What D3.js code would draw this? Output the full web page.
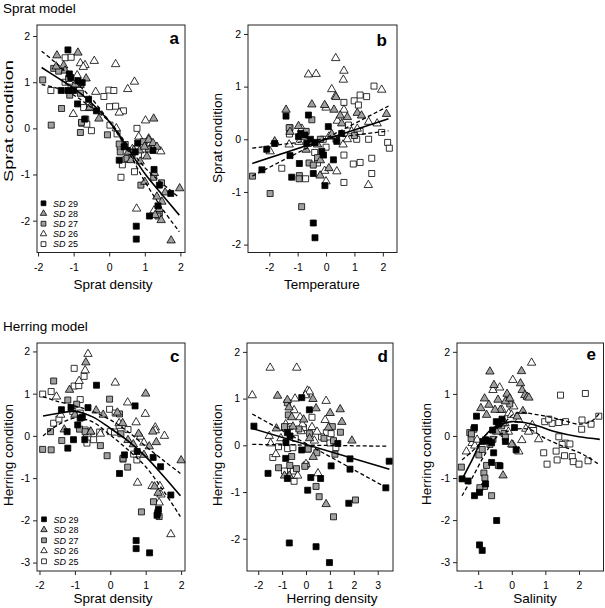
<!DOCTYPE html>
<html><head><meta charset="utf-8">
<script src="https://cdn.jsdelivr.net/npm/d3@7"></script>
<style>body{margin:0;background:#fff}svg{display:block}text{font-family:"Liberation Sans",Arial,sans-serif}</style>
</head><body><svg id="c" width="605" height="608"></svg>
<script>
// ---------- data ----------
const seriesNames = ["SD 29","SD 28","SD 27","SD 26","SD 25"];
// Panel a: Sprat density vs Sprat condition
const aSD29=[[-1.16,1.70],[-1.12,1.18],[-1.08,1.10],[-1.35,0.82],[-1.16,0.82],[-1.0,0.82],[-0.88,1.03],[-0.76,0.99],[-0.89,0.53],[-0.58,0.63],[-0.69,0.20],[-0.36,0.38],[0.42,-0.40],[0.28,-0.69],[0.80,-0.32],[0.73,-0.51],[1.23,-0.48],[1.26,-0.89],[1.37,-1.68],[1.41,-1.23],[1.73,-1.41],[1.13,-1.90],[0.76,-2.12],[0.76,-2.40]];
const aSD28=[[-1.47,1.58],[-1.49,1.34],[-1.28,1.36],[-1.24,1.25],[-0.88,1.64],[-0.65,1.08],[-0.82,0.94],[-0.96,0.95],[-0.29,0.21],[-0.55,0.45],[0.69,-0.47],[0.85,-0.48],[0.99,-0.40],[1.25,0.21],[1.11,-0.25],[1.23,-0.32],[1.34,-0.40],[1.27,-0.97],[1.34,-1.48],[1.41,-1.75],[1.46,-1.99],[1.29,-1.88],[0.87,-0.72],[1.98,-1.30],[1.74,-2.43],[1.06,-0.61],[0.61,-0.69],[0.54,-0.51],[1.0,-1.16],[1.57,-1.39],[1.48,-1.59]];
const aSD27=[[-1.87,1.05],[-1.34,0.43],[-1.63,0.07],[-1.56,1.30],[-1.42,1.24],[-1.14,1.08],[-1.11,0.72],[-0.81,0.76],[-0.81,-0.09],[-0.78,0.13],[-0.55,0.45],[-0.05,-0.14],[0.28,-0.34],[0.31,-0.51],[0.50,-0.65],[0.64,-0.59],[0.89,-1.23],[0.96,-0.29],[1.25,-1.06],[1.47,-1.18],[1.41,-1.84],[1.37,-1.90],[0.45,-0.35],[1.1,-0.45]];
const aSD26=[[-0.81,1.41],[-0.68,1.37],[-0.73,1.33],[-0.42,1.46],[0.18,1.39],[0.71,1.01],[0.52,0.85],[-0.38,0.79],[0.28,0.34],[-1.01,0.31],[1.02,0.17],[0.83,-0.18],[1.11,-0.22],[1.15,-0.33],[0.77,-1.74],[1.26,-1.78],[-1.12,1.01],[-0.9,1.15],[0.2,0.0],[0.65,-0.45],[1.45,-0.5]];
const aSD25=[[-1.24,1.53],[-1.07,1.54],[-1.64,0.82],[-1.24,1.0],[-1.07,0.93],[-0.72,0.45],[-0.66,0.20],[-0.77,0.11],[-0.63,0.09],[-0.50,-0.05],[-0.15,0.69],[-0.01,0.83],[0.13,0.82],[0.01,0.47],[0.18,0.48],[0.40,0.38],[0.02,0.07],[0.22,-0.12],[0.31,-0.40],[0.37,-0.79],[0.33,-1.06],[0.71,-0.94],[0.78,0.0],[0.47,-0.67],[0.99,-0.58]];
const aFit=[[-1.9,1.32],[-1.5,1.12],[-1,0.87],[-0.5,0.55],[0,0.15],[0.5,-0.4],[1,-0.98],[1.5,-1.45],[1.97,-1.88]];
const aBand1=[[-1.9,1.67],[-1.5,1.42],[-1,1.05],[-0.5,0.65],[0,0.15],[0.5,-0.45],[1,-1.15],[1.5,-1.75],[1.97,-2.24]];
const aBand2=[[-1.9,0.95],[-1.5,0.88],[-1,0.72],[-0.5,0.45],[0,0.15],[0.5,-0.35],[1,-0.85],[1.5,-1.2],[1.97,-1.5]];
// Panel b: Temperature vs Sprat condition
const bSD29=[[-1.41,0.44],[-0.62,0.46],[0.08,0.24],[-2.09,-0.19],[-1.81,-0.08],[-2.26,-0.58],[-1.27,-0.31],[-1.21,-0.72],[-0.97,0.05],[-0.89,0.11],[-0.94,-0.46],[-0.74,0.08],[-0.68,-0.08],[-0.39,-0.06],[-0.15,-0.23],[-0.09,-0.30],[0.26,-0.39],[0.38,-0.04],[0.55,0.11],[-0.45,-0.65],[-0.04,-0.88],[-0.45,-1.59],[-0.39,-1.87],[-0.55,0.0]];
const bSD28=[[-1.41,0.56],[-1.81,-0.04],[-0.5,0.66],[-0.05,0.65],[0.35,0.8],[0.28,0.56],[-0.97,0.25],[-1.27,0.14],[-0.2,-0.4],[-0.21,-0.69],[0.1,-0.55],[0.55,0.3],[1.1,0.5],[1.25,0.45],[2.13,0.48],[0.75,0.42],[-0.7,-0.2],[0.2,0.1],[-0.3,-0.1],[0.5,0.45]];
const bSD27=[[-2.59,-0.70],[-1.97,-1.03],[-0.86,-1.28],[-0.94,-0.69],[-0.5,0.37],[-1.3,0.22],[-0.6,-0.45],[-0.45,-0.49],[-0.3,-0.35],[-0.95,-0.75],[-0.2,0.0],[0.35,0.0],[-0.7,0.15],[1.0,0.07]];
const bSD26=[[0.34,1.54],[-0.62,1.23],[-0.35,1.24],[0.63,1.30],[0.61,1.13],[0.2,0.95],[0.33,0.82],[0.63,0.56],[0.0,0.6],[0.4,0.35],[1.49,-0.87],[0.38,-0.61],[1.96,0.94],[-1.97,-0.23],[-0.05,-0.6],[0.0,-0.8],[0.9,0.15],[1.1,0.2],[1.5,0.33],[1.8,0.3],[-0.85,0.2],[0.6,-0.1],[-1.3,-0.1],[0.1,0.05],[0.75,0.0],[-0.95,-0.05]];
const bSD25=[[-1.56,-0.55],[-1.27,0.22],[-1.29,0.1],[0.63,0.70],[0.99,0.73],[1.14,0.65],[1.20,0.84],[1.43,0.81],[1.69,1.01],[0.96,-0.47],[1.20,-0.44],[1.61,-0.36],[1.61,-0.65],[1.96,0.13],[2.17,-0.06],[2.23,-0.17],[0.63,-0.30],[0.63,-0.82],[0.79,0.27],[1.08,0.0],[1.2,0.15],[1.5,0.0],[-0.3,-0.45],[-0.72,-0.75],[-0.8,0.05],[0.0,-0.15],[-0.1,0.0],[-0.4,-0.25]];
const bFit=[[-2.6,-0.46],[2.2,0.39]];
const bBand1=[[-2.6,-0.70],[2.2,0.63]];
const bBand2=[[-2.6,-0.17],[2.2,0.16]];
// Panel c: Sprat density vs Herring condition
const cSD29=[[-1.38,0.62],[-1.11,0.67],[-0.63,0.67],[-0.39,1.20],[-1.22,0.10],[-1.04,-0.09],[-1.20,-0.29],[-0.92,0.26],[-0.85,0.42],[-0.79,0.44],[-0.72,-0.09],[0.40,-0.45],[0.26,-0.89],[0.70,0.71],[0.76,-0.37],[1.21,-0.51],[1.42,-0.73],[1.71,-1.40],[1.36,-1.74],[1.34,-1.82],[1.32,-1.88],[0.73,-2.48],[0.73,-2.67],[1.11,-2.77]];
const cSD28=[[-0.69,1.74],[1.0,1.0],[2.0,-0.58],[-1.15,1.09],[-0.4,0.6],[-0.2,0.5],[0.2,0.55],[0.35,0.3],[-1.0,0.5],[-1.3,0.15],[0.8,0.05],[1.2,0.1],[1.3,-0.15],[1.1,-0.25],[0.5,-0.1],[0.95,-0.45],[1.35,-1.35],[1.25,-1.2],[0.65,-0.2],[-0.55,0.1]];
const cSD27=[[-1.91,-0.32],[-1.67,-0.33],[-1.60,1.30],[-1.69,0.10],[-1.37,-0.11],[-0.87,0.16],[-0.71,0.10],[-0.28,-0.23],[-0.09,-0.47],[-0.02,0.87],[0.26,0.52],[0.49,-0.74],[0.36,-0.53],[0.88,-1.80],[1.22,-1.56],[1.38,-1.91],[-1.2,0.85],[-0.95,0.75],[0.3,0.05]];
const cSD26=[[-0.63,1.94],[-0.71,1.55],[-0.88,1.30],[-1.52,0.93],[0.14,1.26],[0.49,0.79],[0.99,0.52],[0.73,0.32],[-0.28,0.05],[-0.56,0.1],[0.77,-1.11],[1.18,-1.19],[1.40,-1.19],[1.43,-1.39],[1.38,-1.58],[1.71,-2.33],[1.53,0.0],[1.27,0.2],[1.27,0.13],[0.85,-0.02],[0.95,-0.16],[-1.4,0.5],[0.25,0.3],[-0.65,0.05]];
const cSD25=[[-1.91,0.99],[-1.67,1.05],[-1.02,1.60],[-1.02,1.18],[-0.89,1.19],[-0.74,1.41],[-1.06,0.58],[-0.85,0.86],[-0.85,0.54],[-0.71,0.14],[-0.66,-0.17],[-0.47,-0.09],[-0.30,0.09],[-0.02,0.63],[0.0,0.10],[0.14,0.54],[0.36,-0.55],[0.75,-0.57],[0.66,-0.43],[0.12,0.09],[-1.6,0.3],[-1.45,0.4],[0.25,0.25],[0.5,0.15]];
const cFit=[[-1.9,0.47],[-1.5,0.53],[-1,0.58],[-0.5,0.45],[0,0.18],[0.5,-0.12],[1,-0.49],[1.5,-0.95],[1.98,-1.42]];
const cBand1=[[-1.9,0.93],[-1.5,0.82],[-1,0.71],[-0.5,0.58],[0,0.38],[0.5,0.1],[1,-0.25],[1.5,-0.58],[1.98,-0.89]];
const cBand2=[[-1.9,0.0],[-1.5,0.25],[-1,0.42],[-0.5,0.33],[0,0.02],[0.5,-0.33],[1,-0.73],[1.5,-1.3],[1.98,-1.91]];
// Panel d: Herring density vs Herring condition
const dSD29=[[-2.18,0.41],[-1.59,-0.60],[-0.78,0.27],[-0.84,0.06],[-0.67,0.20],[-0.85,-0.28],[-0.78,-0.71],[-0.18,1.02],[0.14,0.76],[-0.18,-0.10],[0.20,-0.69],[0.61,-0.71],[0.07,-0.96],[1.05,-0.44],[1.33,0.04],[1.84,-0.29],[1.84,-0.51],[1.79,-1.24],[3.34,-0.91],[3.48,-0.34],[-0.70,-2.09],[0.42,-2.17],[0.98,-2.51]];
const dSD28=[[-1.19,1.06],[-1.24,0.36],[-0.78,0.97],[-0.71,0.81],[0.29,0.99],[0.42,0.79],[1.01,0.69],[0.94,0.38],[1.43,0.77],[1.5,0.5],[1.92,0.10],[0.84,-1.26],[-0.6,0.6],[-0.1,0.55],[-0.7,-0.65],[-0.9,-0.65],[0.15,0.15],[0.3,-0.25],[-0.55,0.4]];
const dSD27=[[-0.78,0.91],[-0.74,0.65],[-1.15,-0.48],[-0.68,-0.43],[-0.60,-0.24],[-0.4,-0.5],[0.09,-0.08],[0.45,-0.16],[0.42,-0.88],[0.55,-1.10],[1.15,-1.53],[2.07,-1.17],[1.21,-0.19],[1.44,0.28],[1.15,0.1],[1.1,0.4],[-0.3,0.35],[-0.05,-0.45],[0.15,0.25],[0.75,0.15],[-0.9,0.4]];
const dSD26=[[-2.25,1.07],[-1.50,1.66],[-0.39,1.66],[-1.54,0.20],[-1.48,0.04],[-1.26,-0.19],[-0.46,1.0],[0.0,1.1],[0.06,1.17],[0.14,1.15],[-0.03,1.07],[0.25,0.39],[0.46,0.29],[0.84,0.95],[0.8,0.54],[-0.25,0.6],[-0.5,0.75],[-0.2,0.3],[-0.35,-0.65],[0.5,-0.6],[-1.05,0.15],[-0.85,0.45],[0.0,-0.4],[0.35,0.1],[-0.15,0.45]];
const dSD25=[[-1.15,-0.03],[-1.39,-0.26],[-0.77,-0.07],[-0.53,-0.55],[-0.50,-0.77],[-0.67,0.40],[-0.2,0.33],[-0.11,0.38],[0.0,-0.42],[0.08,-0.08],[0.85,0.27],[1.0,0.05],[1.05,0.25],[1.25,-0.05],[-0.9,-0.55],[0.25,0.6],[-0.45,0.15],[0.65,0.18],[-0.55,-0.05]];
const dFit=[[-2.25,0.36],[3.49,-0.51]];
const dBand1=[[-2.25,0.67],[3.45,-0.93]];
const dBand2=[[-2.25,0.02],[3.45,-0.02]];
// Panel e: Salinity vs Herring condition
const eSD29=[[-1.48,-1.02],[-1.30,-1.07],[-1.11,0.20],[-1.05,0.47],[-1.11,-1.42],[-0.96,-1.34],[-0.78,-1.14],[-0.96,-2.59],[-0.88,-2.72],[-0.45,-2.01],[-0.86,-0.13],[-0.78,-0.09],[-0.68,-0.12],[-0.60,-0.16],[-0.54,-0.40],[-0.57,0.14],[-0.46,0.34],[-0.39,0.28],[-0.29,0.40],[-0.19,-0.13],[-0.60,-0.63],[-0.35,-0.71],[0.08,0.20],[0.13,-0.33]];
const eSD28=[[-0.65,1.53],[-0.53,1.21],[-0.81,0.89],[-0.92,0.66],[-0.75,0.50],[-0.68,0.74],[-0.41,0.86],[-0.34,0.62],[-0.50,0.62],[-0.19,0.82],[-0.14,1.0],[-0.06,0.89],[0.29,1.54],[0.26,1.25],[0.31,1.09],[0.39,0.97],[0.46,0.93],[0.51,0.91],[0.16,0.46],[0.33,0.59],[-0.26,-0.94],[-0.45,0.1],[0.0,-0.2],[-0.25,0.3]];
const eSD27=[[-1.5,-0.74],[-1.25,0.08],[-1.21,-0.06],[-1.13,0.16],[-0.98,-0.45],[-0.88,-0.32],[-0.83,-0.88],[-0.75,-0.70],[-0.81,-1.20],[-0.80,-1.00],[-0.60,-1.42],[-0.95,-1.23],[-0.56,-0.08],[-0.30,0.24],[-0.23,0.06],[-0.19,-0.03],[-0.09,0.84],[-0.06,0.76],[-1.2,0.05],[-0.65,-0.2],[-0.4,-0.7]];
const eSD26=[[0.59,1.74],[-0.56,1.09],[0.03,1.33],[-0.36,1.15],[0.06,0.70],[-0.29,0.62],[-0.09,0.54],[-0.01,0.50],[0.21,0.38],[0.42,0.17],[0.61,0.26],[0.80,-0.08],[0.21,-0.37],[0.03,-0.21],[-1.35,-0.37],[-1.18,-0.17],[-1.10,-0.23],[-1.03,-0.09],[-0.1,0.1],[0.3,-0.1],[-0.2,0.3],[0.5,0.1]];
const eSD25=[[0.98,0.34],[1.20,0.30],[1.40,0.32],[1.60,0.34],[1.45,0.97],[2.19,1.01],[2.36,0.28],[2.59,0.47],[2.09,0.38],[2.08,0.16],[0.95,-0.40],[1.05,-0.67],[1.32,-0.36],[1.35,-0.57],[1.57,-0.47],[1.60,-0.17],[1.73,-0.19],[1.40,-0.02],[1.80,-0.49],[1.83,-0.61],[2.0,-0.67],[2.27,-0.59],[0.65,0.14],[1.5,-0.2],[1.1,0.4]];
const eFit=[[-1.46,-1.0],[-1.18,-0.57],[-0.88,-0.09],[-0.57,0.18],[0,0.34],[0.6,0.28],[1.3,0.10],[2,-0.02],[2.62,-0.08]];
const eBand1=[[-1.48,-0.57],[-1.03,-0.25],[-0.78,0.02],[-0.29,0.26],[0.11,0.54],[0.8,0.50],[1.5,0.38],[2,0.28],[2.39,0.36],[2.62,0.55]];
const eBand2=[[-1.48,-1.42],[-1.18,-1.0],[-0.78,-0.41],[-0.44,-0.02],[0,0.14],[0.51,0.16],[1.0,-0.06],[1.6,-0.27],[2.1,-0.43],[2.62,-0.69]];

const xTicksA=[-2,-1,0,1,2], xTicksD=[-2,-1,0,1,2,3], xTicksE=[-1,0,1,2];
const yTicksAB=[-2,-1,0,1,2], yTicksCE=[-3,-2,-1,0,1,2];

// ---------- layout ----------
const svg=d3.select("#c");
const styles={ "SD 29":{shape:"sq",fill:"#000"}, "SD 28":{shape:"tri",fill:"#a0a0a0"}, "SD 27":{shape:"sq",fill:"#a0a0a0"}, "SD 26":{shape:"tri",fill:"#fff"}, "SD 25":{shape:"sq",fill:"#fff"} };
const panels=[
 {L:"a",f:[37,185,25,252.5],xd:[-2.03,2.13],yd:[-2.69,2.24],xt:xTicksA,yt:yTicksAB,s:[aSD29,aSD28,aSD27,aSD26,aSD25],fit:aFit,b:[aBand1,aBand2],xl:"Sprat density",yl:"Sprat condition",xlx:113,xly:288.5,ylx:13,yly:121,ylLen:122,legend:[43.5,203.3,10.2],letter:[179,44],curve:true},
 {L:"b",f:[248,397,25,252.5],xd:[-2.75,2.5],yd:[-2.15,2.17],xt:xTicksA,yt:yTicksAB,s:[bSD29,bSD28,bSD27,bSD26,bSD25],fit:bFit,b:[bBand1,bBand2],xl:"Temperature",yl:"Sprat condition",xlx:322,xly:288.5,ylx:222,yly:138,letter:[387,46]},
 {L:"c",f:[37,185,343,571],xd:[-2.07,2.11],yd:[-3.20,2.20],xt:xTicksA,yt:yTicksCE,s:[cSD29,cSD28,cSD27,cSD26,cSD25],fit:cFit,b:[cBand1,cBand2],xl:"Sprat density",yl:"Herring condition",xlx:113,xly:603,ylx:13,yly:455,legend:[44,519.3,10.5],letter:[179.5,361.5],curve:true},
 {L:"d",f:[247,393,343,571],xd:[-2.47,3.64],yd:[-2.69,2.19],xt:xTicksD,yt:yTicksAB,s:[dSD29,dSD28,dSD27,dSD26,dSD25],fit:dFit,b:[dBand1,dBand2],xl:"Herring density",yl:"Herring condition",xlx:332,xly:603,ylx:222,yly:455,letter:[388,361.5]},
 {L:"e",f:[457,603.5,343,571],xd:[-1.63,2.73],yd:[-3.21,2.21],xt:xTicksE,yt:yTicksCE,s:[eSD29,eSD28,eSD27,eSD26,eSD25],fit:eFit,b:[eBand1,eBand2],xl:"Salinity",yl:"Herring condition",xlx:535,xly:603,ylx:431,yly:454,letter:[596,360],curve:true}
];

function sym(shape,sz){
  return shape==="sq"? d3.symbol(d3.symbolSquare, sz*sz)() : d3.symbol(d3.symbolTriangle, Math.sqrt(3)/4*sz*sz*1.05)();
}

svg.append("text").attr("x",3).attr("y",13).attr("font-size",13.5).text("Sprat model");
svg.append("text").attr("x",3).attr("y",330.5).attr("font-size",13.5).text("Herring model");

panels.forEach(p=>{
  const [x0,x1,y0,y1]=p.f;
  const x=d3.scaleLinear().domain(p.xd).range([x0,x1]);
  const y=d3.scaleLinear().domain(p.yd).range([y1,y0]);
  const g=svg.append("g");
  for(let i=4;i>=0;i--){
    const st=styles[seriesNames[i]];
    g.selectAll(null).data(p.s[i]).enter().append("path")
      .attr("d",sym(st.shape, st.shape==="sq"?6:8.2))
      .attr("transform",d=>`translate(${x(d[0])},${y(d[1])})`)
      .attr("fill",st.fill).attr("stroke","#000").attr("stroke-width",0.8);
  }
  const line=d3.line().x(d=>x(d[0])).y(d=>y(d[1])).curve(p.curve?d3.curveCatmullRom:d3.curveLinear);
  p.b.forEach(b=>g.append("path").attr("d",line(b)).attr("fill","none").attr("stroke","#000").attr("stroke-width",1.3).attr("stroke-dasharray","4,2.5"));
  g.append("path").attr("d",line(p.fit)).attr("fill","none").attr("stroke","#000").attr("stroke-width",1.6);
  g.append("rect").attr("x",x0).attr("y",y0).attr("width",x1-x0).attr("height",y1-y0).attr("fill","none").attr("stroke","#222").attr("stroke-width",1);
  const ax=g.append("g").attr("transform",`translate(0,${y1})`).call(d3.axisBottom(x).tickValues(p.xt).tickFormat(d3.format("d")).tickSize(4).tickPadding(7));
  const ay=g.append("g").attr("transform",`translate(${x0},0)`).call(d3.axisLeft(y).tickValues(p.yt).tickFormat(d3.format("d")).tickSize(4).tickPadding(3));
  [ax,ay].forEach(a=>{a.select(".domain").remove();a.selectAll("text").attr("font-size",10.5).attr("font-family","Liberation Sans, Arial, sans-serif").attr("fill","#000");a.selectAll("line").attr("stroke","#222");});
  ax.selectAll("text").text(d=>String(d).replace("\u2212","-"));
  ay.selectAll("text").text(d=>String(d).replace("\u2212","-"));
  g.append("text").attr("x",p.xlx).attr("y",p.xly).attr("text-anchor","middle").attr("font-size",13.5).text(p.xl);
  const yt=g.append("text").attr("transform",`translate(${p.ylx},${p.yly}) rotate(-90)`).attr("text-anchor","middle").attr("font-size",13.5).text(p.yl);
  if(p.ylLen) yt.attr("textLength",p.ylLen).attr("lengthAdjust","spacingAndGlyphs");
  g.append("text").attr("x",p.letter[0]).attr("y",p.letter[1]).attr("text-anchor","end").attr("font-size",17).attr("font-weight","bold").text(p.L);
  if(p.legend){
    const [lx,ly,dy]=p.legend;
    seriesNames.forEach((n,i)=>{
      const st=styles[n], yy=ly+i*dy;
      g.append("path").attr("d",sym(st.shape, st.shape==="sq"?4.8:6.3)).attr("transform",`translate(${lx},${yy})`).attr("fill",st.fill).attr("stroke","#000").attr("stroke-width",0.8);
      const t=g.append("text").attr("x",lx+9.5).attr("y",yy+3.3).attr("font-size",9);
      t.append("tspan").attr("font-style","italic").text("SD");
      t.append("tspan").text(" "+n.split(" ")[1]);
    });
  }
});
</script></body></html>
